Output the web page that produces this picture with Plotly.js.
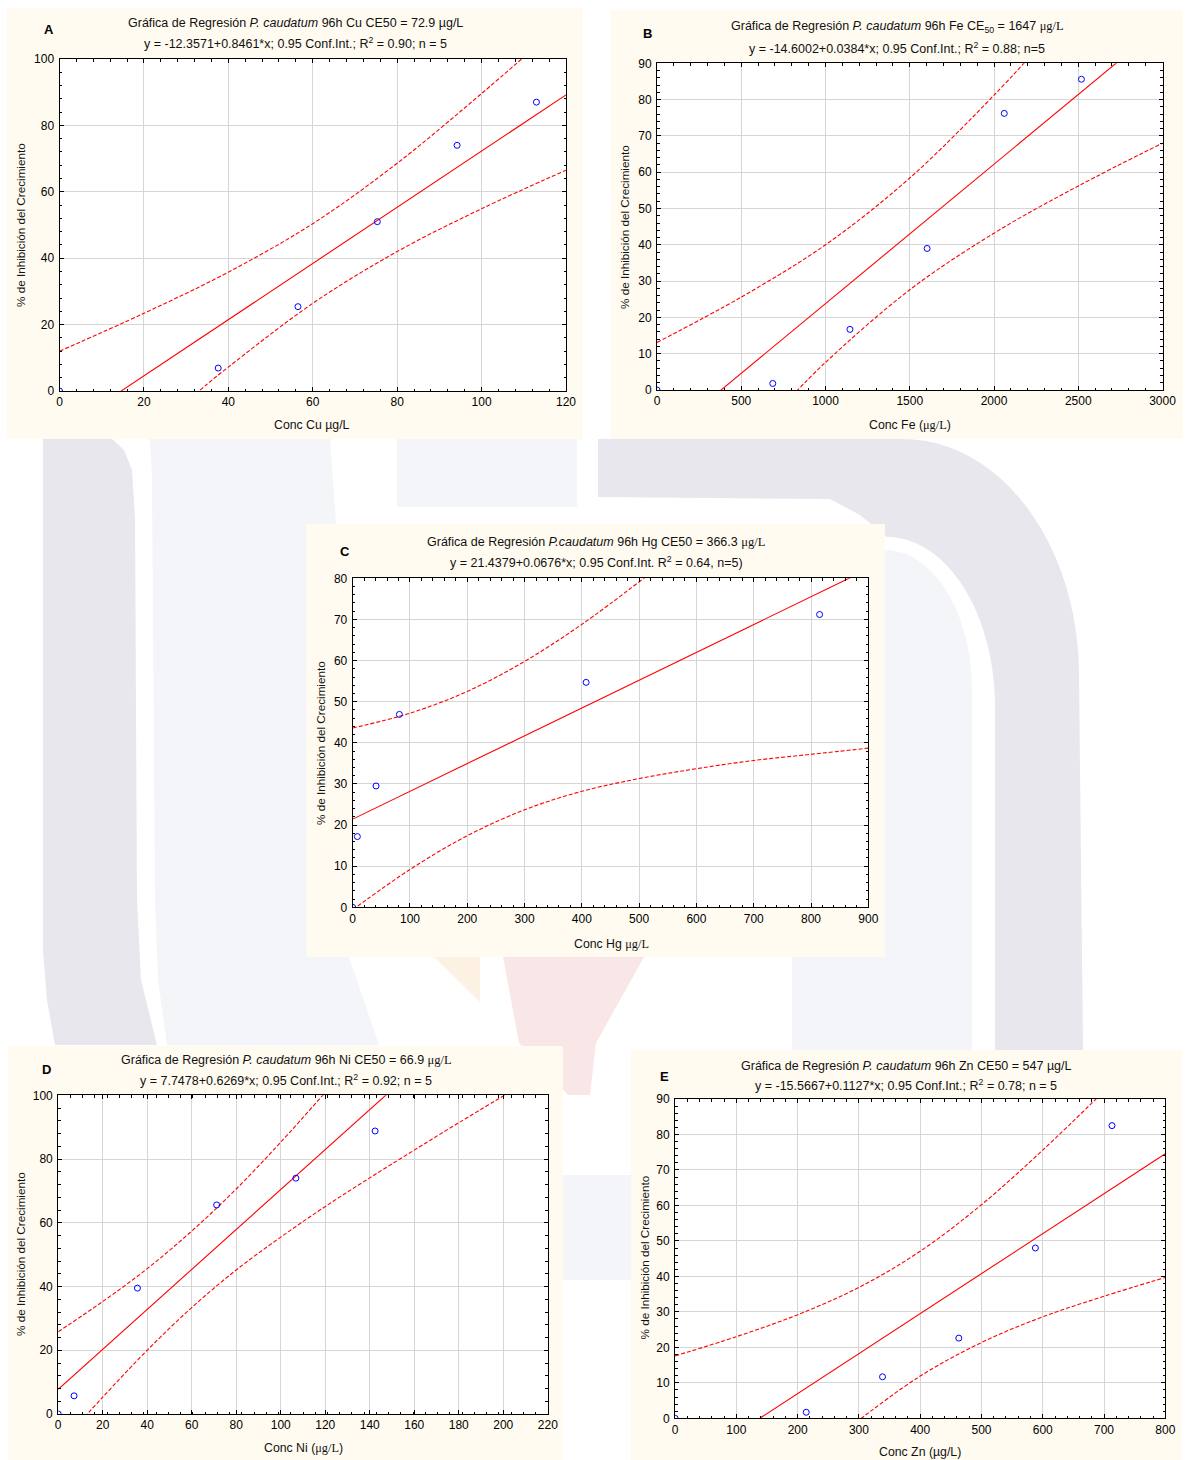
<!DOCTYPE html>
<html>
<head>
<meta charset="utf-8">
<script src="https://cdn.plot.ly/plotly-3.0.1.min.js"></script>
<style>html,body{margin:0;padding:0;background:#fff;}#chart{width:1188px;height:1460px;}</style>
</head>
<body>
<div id="chart"></div>
<script>
// ---------------- DATA ----------------
// Panel A - Cu
const cuConc = [0, 37.6, 56.5, 75.3, 94.2, 113];
const cuInhib = [0, 6.9, 25.4, 51.0, 74.0, 87.0];
const cuFitX = [0, 120];
const cuFitY = [-12.36, 89.18];
const cuUpX = [0, 20, 40, 60, 80, 100, 110];
const cuUpY = [12.0, 23.4, 35.8, 50.4, 68.6, 89.6, 100.6];
const cuLoX = [30, 35, 40, 60, 80, 100, 120];
const cuLoY = [-3.3, 2.1, 7.2, 26.4, 42.0, 54.9, 66.5];

// Panel B - Fe
const feConc = [0, 687, 1145, 1603, 2061, 2519];
const feInhib = [0, 1.8, 16.7, 39.0, 76.2, 85.6];
const feFitX = [0, 3000];
const feFitY = [-14.6, 100.6];
const feUpX = [0, 500, 1000, 1500, 2000, 2200];
const feUpY = [13.1, 25.6, 40.0, 58.4, 81.2, 91.2];
const feLoX = [800, 1000, 1500, 2000, 2500, 3000];
const feLoY = [-1.7, 7.6, 27.6, 43.2, 56.2, 68.0];

// Panel C - Hg
const hgConc = [0, 8.15, 40.75, 81.5, 407.5, 815];
const hgInhib = [0, 17.2, 29.5, 46.9, 54.7, 71.2];
const hgFitX = [0, 900];
const hgFitY = [21.44, 82.28];
const hgUpX = [0, 100, 200, 300, 400, 510];
const hgUpY = [43.6, 47.2, 52.5, 59.8, 68.8, 80.2];
const hgLoX = [0, 100, 200, 300, 400, 500, 600, 700, 800, 900];
const hgLoY = [-0.6, 9.2, 17.4, 23.7, 28.2, 31.3, 33.7, 35.7, 37.2, 38.7];

// Panel D - Ni
const niConc = [0, 7.12, 35.6, 71.2, 106.8, 142.4];
const niInhib = [0, 5.7, 39.5, 65.6, 74.0, 88.8];
const niFitX = [0, 220];
const niFitY = [7.75, 145.66];
const niUpX = [0, 20, 40, 60, 80, 100, 120];
const niUpY = [25.8, 35.3, 45.6, 57.4, 70.6, 85.3, 100.9];
const niLoX = [10, 20, 40, 60, 80, 100, 120, 140, 160, 180, 201];
const niLoY = [-2.4, 5.3, 20.0, 33.4, 45.2, 55.5, 65.1, 74.1, 82.8, 91.4, 100.2];

// Panel E - Zn
const znConc = [0, 214, 338.5, 463, 588, 713];
const znInhib = [0, 1.7, 11.7, 22.6, 48.0, 82.5];
const znFitX = [0, 800];
const znFitY = [-15.57, 74.59];
const znUpX = [0, 100, 200, 300, 400, 500, 600, 700];
const znUpY = [17.6, 23.0, 29.2, 36.9, 47.1, 60.2, 75.6, 92.2];
const znLoX = [280, 300, 400, 500, 600, 700, 800];
const znLoY = [-3.2, -0.5, 11.9, 21.35, 28.6, 34.4, 39.7];

// Text
const panelLetters = ['A', 'B', 'C', 'D', 'E'];
const serif = s => '<span style="font-family:\'Liberation Serif\',\'Times New Roman\',serif">' + s + '</span>';
const titleLine1 = [
  'Gráfica de Regresión <i>P. caudatum</i> 96h Cu CE50 = 72.9 µg/L',
  'Gráfica de Regresión <i>P. caudatum</i> 96h Fe CE<sub>50</sub> = 1647 ' + serif('μg/L'),
  'Gráfica de Regresión <i>P.caudatum</i> 96h Hg CE50 = 366.3 ' + serif('μg/L'),
  'Gráfica de Regresión <i>P. caudatum</i> 96h Ni CE50 = 66.9 ' + serif('μg/L'),
  'Gráfica de Regresión <i>P. caudatum</i> 96h Zn CE50 = 547 µg/L'
];
const titleLine2 = [
  'y = -12.3571+0.8461*x; 0.95 Conf.Int.; R<sup>2</sup> = 0.90; n = 5',
  'y = -14.6002+0.0384*x; 0.95 Conf.Int.; R<sup>2</sup> = 0.88; n=5',
  'y = 21.4379+0.0676*x; 0.95 Conf.Int. R<sup>2</sup> = 0.64, n=5)',
  'y = 7.7478+0.6269*x; 0.95 Conf.Int.; R<sup>2</sup> = 0.92; n = 5',
  'y = -15.5667+0.1127*x; 0.95 Conf.Int.; R<sup>2</sup> = 0.78; n = 5'
];
const xTitles = [
  'Conc Cu µg/L',
  'Conc Fe (' + serif('μg/L') + ')',
  'Conc Hg ' + serif('μg/L'),
  'Conc Ni (' + serif('μg/L') + ')',
  'Conc Zn (µg/L)'
];
const yTitle = '% de Inhibición del Crecimiento';

// ---------------- LAYOUT GEOMETRY (pixels) ----------------
const W = 1188, H = 1460;
const PX = p => p / W;
const PY = p => 1 - p / H;

const panels = [
  {box: [7, 8, 583, 439], plot: [59.5, 59, 566, 391], xr: [0, 120], xd: 20, xm: 4, yr: [0, 100], yd: 20, ym: 4,
   t1: [295, 23], t2: [295, 43], xt: [312, 425], yt: [20, 225], let: [49, 29]},
  {box: [611, 10, 1183, 439], plot: [657, 63.3, 1162.5, 390], xr: [0, 3000], xd: 500, xm: 100, yr: [0, 90], yd: 10, ym: 2,
   t1: [897, 27], t2: [897, 48], xt: [910, 425], yt: [624, 227], let: [647, 34]},
  {box: [306.5, 524, 885, 957], plot: [352.7, 578.3, 868.3, 907.3], xr: [0, 900], xd: 100, xm: 20, yr: [0, 80], yd: 10, ym: 2,
   t1: [596, 542], t2: [596, 562], xt: [611, 944], yt: [320, 743], let: [345, 551]},
  {box: [8, 1046, 563, 1460], plot: [58.2, 1095.3, 547.8, 1414], xr: [0, 220], xd: 20, xm: 5.5, yr: [0, 100], yd: 20, ym: 4,
   t1: [286, 1060], t2: [286, 1080], xt: [303, 1448], yt: [20, 1254], let: [46.5, 1069]},
  {box: [631, 1050, 1182, 1460], plot: [675.1, 1099, 1165.3, 1418.3], xr: [0, 800], xd: 100, xm: 20, yr: [0, 90], yd: 10, ym: 2,
   t1: [906, 1066], t2: [906, 1085], xt: [920, 1452], yt: [643.5, 1258], let: [664.6, 1076]}
];

const series = [
  [cuConc, cuInhib, cuFitX, cuFitY, cuUpX, cuUpY, cuLoX, cuLoY],
  [feConc, feInhib, feFitX, feFitY, feUpX, feUpY, feLoX, feLoY],
  [hgConc, hgInhib, hgFitX, hgFitY, hgUpX, hgUpY, hgLoX, hgLoY],
  [niConc, niInhib, niFitX, niFitY, niUpX, niUpY, niLoX, niLoY],
  [znConc, znInhib, znFitX, znFitY, znUpX, znUpY, znLoX, znLoY]
];

const FONT = 'Liberation Sans, Arial, Helvetica, sans-serif';
const traces = [];
const layout = {
  width: W, height: H,
  margin: {l: 0, r: 0, t: 0, b: 0},
  paper_bgcolor: '#ffffff',
  plot_bgcolor: '#ffffff',
  showlegend: false,
  font: {family: FONT, size: 12, color: '#000'},
  shapes: [],
  annotations: []
};

// watermark shapes (background decoration)
function path(pts) {
  return pts.map((p, i) => (i ? 'L' : 'M') + PX(p[0]).toFixed(5) + ',' + PY(p[1]).toFixed(5)).join(' ') + ' Z';
}
function arc(cx, cy, rx, ry, a0, a1, n) {
  const out = [];
  for (let i = 0; i <= n; i++) {
    const a = (a0 + (a1 - a0) * i / n) * Math.PI / 180;
    out.push([cx + rx * Math.cos(a), cy - ry * Math.sin(a)]);
  }
  return out;
}
const DARK = '#e7e7ed', LIGHT = '#f4f5f8', PINK = '#f9e6e7', ORANGE = '#fdf1e4';
const wm = [];
wm.push({c: DARK, pts: [[43, 439], [112, 439], [124, 450], [132, 470], [135, 520], [137, 900], [141, 980], [157, 1045], [55, 1045], [47, 1000], [43, 950]]});
wm.push({c: LIGHT, pts: [[150, 439], [330, 439], [336, 523], [349, 957], [379, 1045], [167, 1045], [158, 980], [155, 900], [152, 480]]});
wm.push({c: LIGHT, pts: [[397, 439], [577, 439], [577, 507], [397, 507]]});
(function () {
  const outer = arc(903, 675, 176, 236, 90, 0, 24);
  const inner = arc(887, 707, 108, 170, 0, 90, 24);
  const pts = [[598, 439]].concat(outer, [[1083, 1050], [995, 1050]], inner, [[860, 515], [830, 499], [598, 497]]);
  wm.push({c: DARK, pts: pts});
  const innerL = arc(885, 690, 87, 140, 0, 90, 20);
  wm.push({c: LIGHT, pts: [[792, 957], [885, 957]].concat(innerL.reverse(), [[972, 690], [972, 1050], [792, 1050]])});
})();
wm.push({c: ORANGE, pts: [[434, 957], [480, 957], [480, 1002]]});
wm.push({c: PINK, pts: [[503, 957], [644, 957], [596, 1043], [590, 1095], [568, 1095], [519, 1043]]});
wm.push({c: LIGHT, pts: [[563, 1175], [631, 1175], [631, 1280], [563, 1280]]});
wm.forEach(w => layout.shapes.push({type: 'path', xref: 'paper', yref: 'paper', path: path(w.pts),
  fillcolor: w.c, line: {width: 0}, layer: 'below'}));

panels.forEach((p, i) => {
  const n = i === 0 ? '' : String(i + 1);
  const xa = 'xaxis' + n, ya = 'yaxis' + n;
  const xr = 'x' + n, yr = 'y' + n;
  const [conc, inhib, fx, fy, ux, uy, lx, ly] = series[i];

  // cream panel + white plot area
  layout.shapes.push({type: 'rect', xref: 'paper', yref: 'paper', layer: 'below',
    x0: PX(p.box[0]), x1: PX(p.box[2]), y0: PY(p.box[3]), y1: PY(p.box[1]),
    fillcolor: '#fffbf0', line: {width: 0}});
  layout.shapes.push({type: 'rect', xref: 'paper', yref: 'paper', layer: 'below',
    x0: PX(p.plot[0]), x1: PX(p.plot[2]), y0: PY(p.plot[3]), y1: PY(p.plot[1]),
    fillcolor: '#ffffff', line: {width: 0}});

  const common = {
    showline: true, linecolor: '#000', linewidth: 1, mirror: 'allticks',
    ticks: 'inside', ticklen: 4, tickcolor: '#000', tickwidth: 1,
    showgrid: true, gridcolor: '#d6d6d6', gridwidth: 1, zeroline: false,
    tickfont: {family: FONT, size: 12, color: '#000'}, fixedrange: true,
    tickmode: 'linear', tick0: 0
  };
  layout[xa] = Object.assign({}, common, {
    domain: [PX(p.plot[0]), PX(p.plot[2])], anchor: yr, range: p.xr, dtick: p.xd,
    minor: {dtick: p.xm, tick0: 0, ticks: 'inside', ticklen: 2.5, tickcolor: '#000', showgrid: false}
  });
  layout[ya] = Object.assign({}, common, {
    domain: [PY(p.plot[3]), PY(p.plot[1])], anchor: xr, range: p.yr, dtick: p.yd,
    ticklabelstandoff: 2,
    minor: {dtick: p.ym, tick0: 0, ticks: 'inside', ticklen: 2.5, tickcolor: '#000', showgrid: false}
  });

  traces.push({x: fx, y: fy, xaxis: xr, yaxis: yr, mode: 'lines', line: {color: '#ff0000', width: 1.1}, hoverinfo: 'skip'});
  traces.push({x: ux, y: uy, xaxis: xr, yaxis: yr, mode: 'lines', line: {color: '#ff0000', width: 1.1, dash: '4px,2px', shape: 'spline', smoothing: 1}, hoverinfo: 'skip'});
  traces.push({x: lx, y: ly, xaxis: xr, yaxis: yr, mode: 'lines', line: {color: '#ff0000', width: 1.1, dash: '4px,2px', shape: 'spline', smoothing: 1}, hoverinfo: 'skip'});
  traces.push({x: conc, y: inhib, xaxis: xr, yaxis: yr, mode: 'markers',
    marker: {symbol: 'circle-open', size: 6, color: '#0000ff', line: {width: 1, color: '#0000ff'}}});

  const ann = (txt, xy, extra) => layout.annotations.push(Object.assign({
    text: txt, xref: 'paper', yref: 'paper', x: PX(xy[0]), y: PY(xy[1]),
    xanchor: 'center', yanchor: 'middle', showarrow: false,
    font: {family: FONT, size: 12.5, color: '#111'}
  }, extra || {}));
  ann(titleLine1[i], p.t1);
  ann(titleLine2[i], p.t2);
  ann(xTitles[i], p.xt, {font: {family: FONT, size: 12.3, color: '#111'}});
  ann(yTitle, p.yt, {textangle: -90, font: {family: FONT, size: 11.7, color: '#111'}});
  ann('<b>' + panelLetters[i] + '</b>', p.let, {font: {family: FONT, size: 13, color: '#000'}});
});

Plotly.newPlot('chart', traces, layout, {staticPlot: true, displayModeBar: false});
</script>
</body>
</html>
